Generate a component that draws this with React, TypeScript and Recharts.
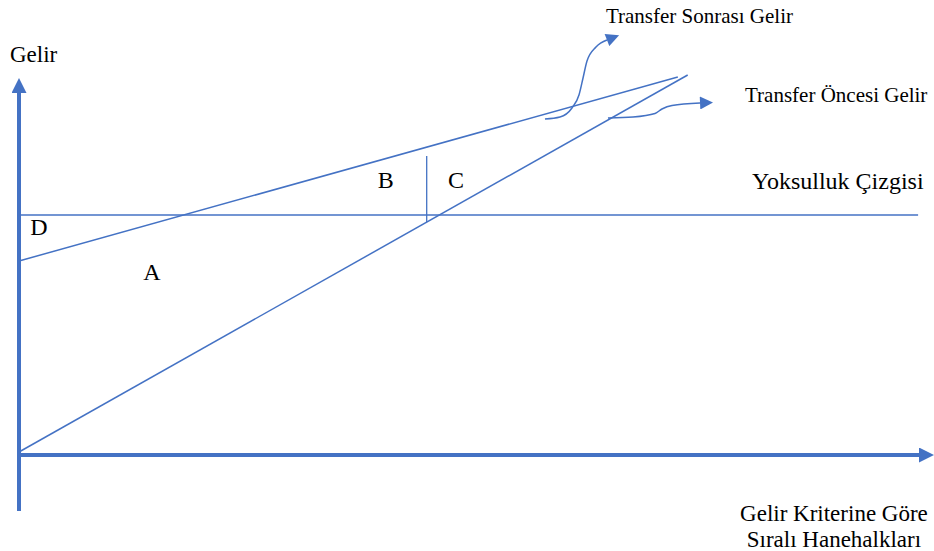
import { ComposedChart, Line, Scatter, XAxis, YAxis } from "recharts";

// Diagram units: x = households ranked by income (0..100), y = income (0..100)
const BLUE = "#4472C4";
const SERIF = "'Liberation Serif', 'Times New Roman', serif";

const preTransfer = [
  { x: 0, y: 0.75 },
  { x: 74.3, y: 95 },
];
const postTransfer = [
  { x: 0, y: 48.5 },
  { x: 73.2, y: 94.5 },
];
const povertyLine = [
  { x: 0, y: 60 },
  { x: 99.9, y: 60 },
];
const divider = [
  { x: 45.3, y: 58.25 },
  { x: 45.3, y: 74.75 },
];
const yAxisLine = [
  { x: 0, y: -14 },
  { x: 0, y: 90.5 },
];
const xAxisLine = [
  { x: 0, y: 0 },
  { x: 100, y: 0 },
];
// callout arrows pointing at the series names
const postArrow = [
  { x: 58.44, y: 84 },
  { x: 60.11, y: 84.5 },
  { x: 61.44, y: 86.75 },
  { x: 62.22, y: 90 },
  { x: 62.67, y: 94.25 },
  { x: 63.11, y: 98.5 },
  { x: 64.11, y: 102 },
  { x: 65.33, y: 103.75 },
];
const preArrow = [
  { x: 65.44, y: 84.25 },
  { x: 68.22, y: 84.5 },
  { x: 70.67, y: 85.38 },
  { x: 71.44, y: 86.5 },
  { x: 72.56, y: 87.38 },
  { x: 75.67, y: 88 },
];

const labels = [
  { x: 65.22, y: 108, text: "Transfer Sonrası Gelir", kind: "series" },
  { x: 80.67, y: 88.25, text: "Transfer Öncesi Gelir", kind: "series" },
  { x: 81.44, y: 66.5, text: "Yoksulluk Çizgisi", kind: "line" },
  { x: -1, y: 98.25, text: "Gelir", kind: "axis" },
  { x: 90.55, y: -16.5, text: "Gelir Kriterine Göre", kind: "axisX" },
  { x: 90.55, y: -23, text: "Sıralı Hanehalkları", kind: "axisX" },
  { x: 14.78, y: 43.75, text: "A", kind: "region" },
  { x: 40.74, y: 66.75, text: "B", kind: "region" },
  { x: 48.56, y: 66.75, text: "C", kind: "region" },
  { x: 2.22, y: 55, text: "D", kind: "region" },
];

const labelStyle: Record<string, { size: number; anchor: "start" | "middle" | "end" }> = {
  series: { size: 21, anchor: "start" },
  line: { size: 24, anchor: "start" },
  axis: { size: 23, anchor: "start" },
  axisX: { size: 23, anchor: "middle" },
  region: { size: 24, anchor: "middle" },
};

function TextMark(props: any) {
  const { cx, cy, payload } = props;
  const s = labelStyle[payload.kind];
  return (
    <text x={cx} y={cy} textAnchor={s.anchor} fontSize={s.size} fontFamily={SERIF} fill="#000">
      {payload.text}
    </text>
  );
}

export default function App() {
  const thin = { type: "linear" as const, stroke: BLUE, dot: false, activeDot: false, isAnimationActive: false };
  return (
    <div style={{ position: "absolute", left: 0, top: 0, background: "#fff" }}>
      <ComposedChart width={934} height={551} margin={{ top: 0, right: 1.5, bottom: 0, left: 1 }}>
        <defs>
          <marker id="arrowAxis" viewBox="0 0 10 10" refX="0" refY="5" markerWidth="15" markerHeight="15"
            orient="auto" markerUnits="userSpaceOnUse">
            <path d="M0,0 L10,5 L0,10 z" fill={BLUE} />
          </marker>
          <marker id="arrowCall" viewBox="0 0 10 10" refX="0" refY="5" markerWidth="14" markerHeight="13"
            orient="auto" markerUnits="userSpaceOnUse">
            <path d="M0,0 L10,5 L0,10 z" fill={BLUE} />
          </marker>
        </defs>
        <XAxis type="number" dataKey="x" domain={[-2, 101.5]} hide />
        <YAxis type="number" dataKey="y" domain={[-24, 113.75]} hide />

        <Line data={yAxisLine} dataKey="y" {...thin} strokeWidth={4} markerEnd="url(#arrowAxis)" />
        <Line data={xAxisLine} dataKey="y" {...thin} strokeWidth={4} markerEnd="url(#arrowAxis)" />

        <Line data={povertyLine} dataKey="y" {...thin} strokeWidth={1.3} />
        <Line data={divider} dataKey="y" {...thin} strokeWidth={1.3} />
        <Line data={postTransfer} dataKey="y" {...thin} strokeWidth={1.5} />
        <Line data={preTransfer} dataKey="y" {...thin} strokeWidth={1.5} />

        <Line data={postArrow} dataKey="y" {...thin} type="monotone" strokeWidth={1.5} markerEnd="url(#arrowCall)" />
        <Line data={preArrow} dataKey="y" {...thin} type="monotone" strokeWidth={1.5} markerEnd="url(#arrowCall)" />

        <Scatter data={labels} dataKey="y" shape={TextMark} isAnimationActive={false} />
      </ComposedChart>
    </div>
  );
}
